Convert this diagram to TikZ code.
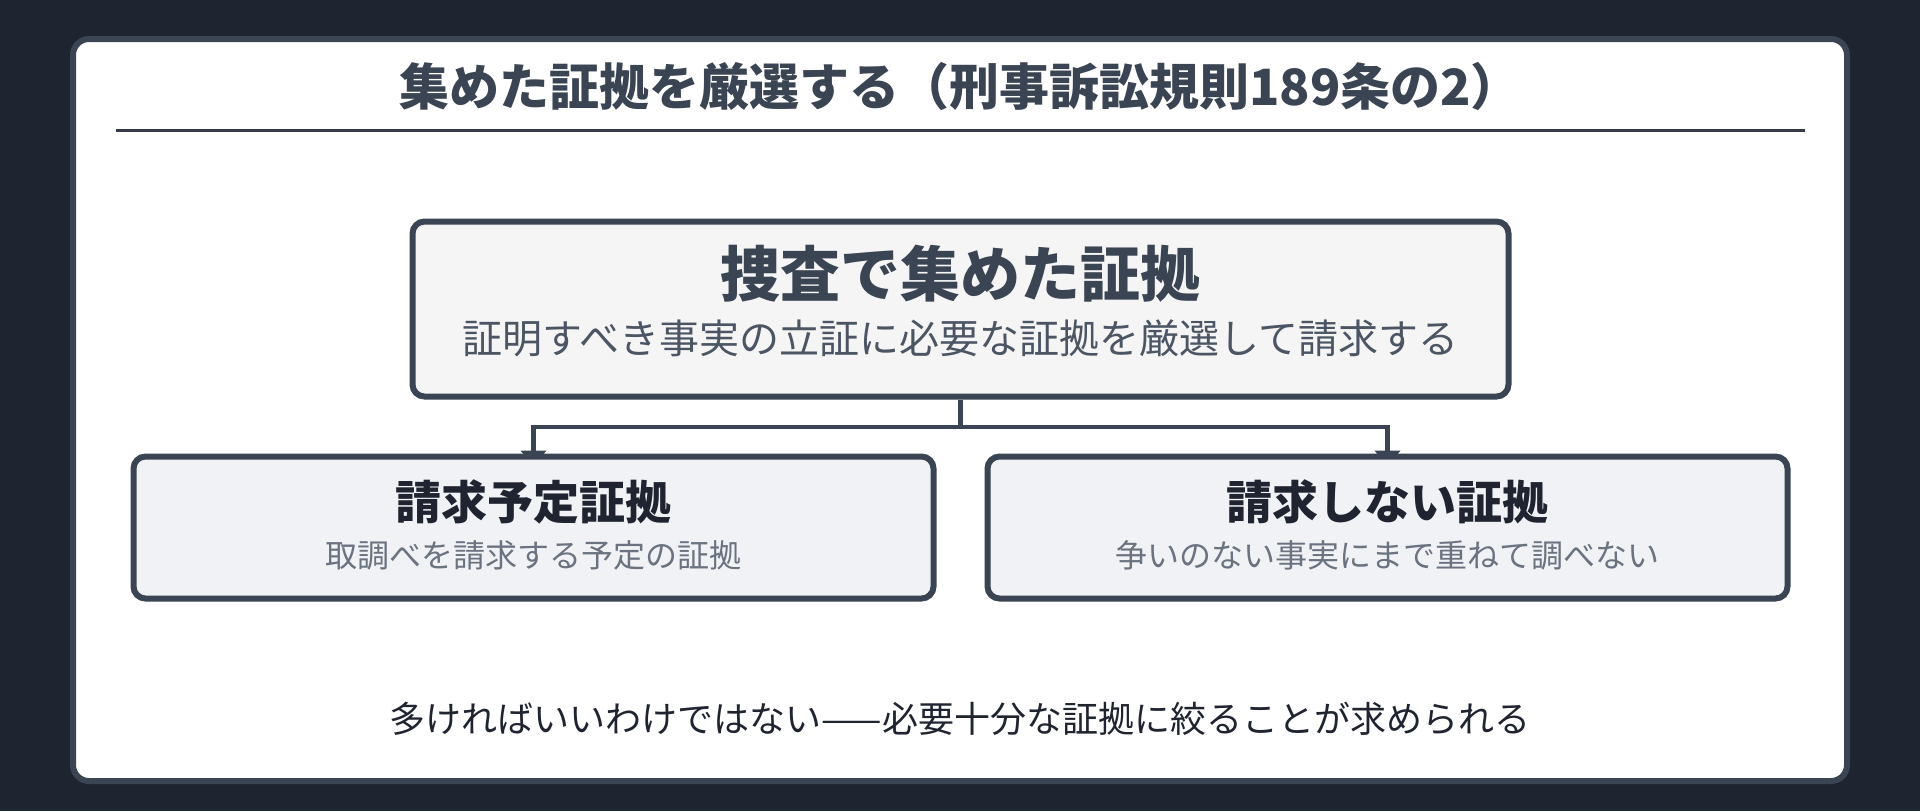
\documentclass[tikz,border=0pt]{standalone}
\usepackage{fontspec}
\setmainfont{Noto Sans CJK JP}
\definecolor{nightbg}{HTML}{1E2530}
\definecolor{slateline}{HTML}{3A4452}
\definecolor{inkdark}{HTML}{1F2430}
\definecolor{inkgray}{HTML}{4B5563}
\definecolor{inklight}{HTML}{6B7280}
\definecolor{paperbox}{HTML}{F5F5F5}
\definecolor{mistbox}{HTML}{F0F2F5}
\usetikzlibrary{positioning}
\usetikzlibrary{arrows.meta, backgrounds}

\tikzset{
  mainbox/.style={draw=slateline, line width=3pt, fill=paperbox, rounded corners=6pt,
    minimum width=548pt, minimum height=87.5pt, inner sep=0pt},
  subbox/.style={draw=slateline, line width=3pt, fill=mistbox, rounded corners=6pt,
    minimum width=400pt, minimum height=71pt, inner sep=0pt},
  branch/.style={draw=slateline, line width=2.4pt, shorten >=-6.5pt,
    -{Triangle[length=8pt,width=12.5pt]}},
}

\begin{document}
\begin{tikzpicture}[x=0.5pt, y=-0.5pt]
  % heading
  \node[text=slateline, font=\fontsize{25pt}{30pt}\selectfont\bfseries] (heading) at (960,86)
    {集めた証拠を厳選する（刑事訴訟規則189条の2）};
  \draw[inkdark!90, line width=1.5pt] (116,130) -- (1805,130);

  % boxes
  \node[mainbox] (collected) at (960.5,309) {};
  \node[text=slateline, font=\fontsize{30pt}{36pt}\selectfont\bfseries] (collectedtitle) at (960,274) {捜査で集めた証拠};
  \node[text=inkgray, font=\fontsize{20pt}{24pt}\selectfont] (collectednote) at (960,338) {証明すべき事実の立証に必要な証拠を厳選して請求する};

  \node[subbox] (planned) at (533.5,527.5) {};
  \node[text=inkdark, font=\fontsize{23pt}{28pt}\selectfont\bfseries] (plannedtitle) at (533.5,502) {請求予定証拠};
  \node[text=inklight, font=\fontsize{16pt}{20pt}\selectfont] (plannednote) at (533.5,555) {取調べを請求する予定の証拠};

  \node[subbox] (withheld) at (1387.5,527.5) {};
  \node[text=inkdark, font=\fontsize{23pt}{28pt}\selectfont\bfseries] (withheldtitle) at (1387.5,502) {請求しない証拠};
  \node[text=inklight, font=\fontsize{16pt}{20pt}\selectfont] (withheldnote) at (1387.5,555) {争いのない事実にまで重ねて調べない};

  % closing remark
  \node[text=inkdark, font=\fontsize{18pt}{22pt}\selectfont] (remark) at (960,719)
    {多ければいいわけではない——必要十分な証拠に絞ることが求められる};

  \begin{scope}[on background layer]
    % background and card
    \fill[nightbg] (0,0) rectangle (1920,811);
    \draw[slateline, line width=3pt, fill=white, rounded corners=8pt] (73,39) rectangle (1847,781);
    % connectors
    \coordinate (split) at (960.5,427);
    \draw[slateline, line width=2.4pt] (collected.south) -- (split);
    \draw[branch] (split) -| (planned.north);
    \draw[branch] (split) -| (withheld.north);
  \end{scope}
\end{tikzpicture}
\end{document}
